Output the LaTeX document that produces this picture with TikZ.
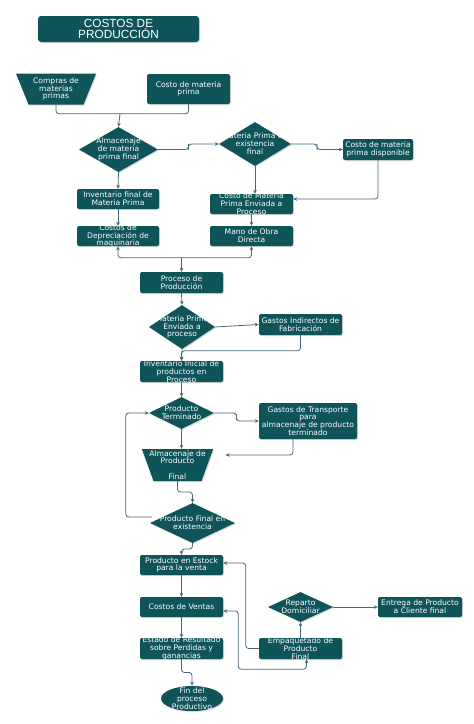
\documentclass[tikz,border=0pt]{standalone}
\usepackage{fontspec}
\setmainfont{DejaVu Sans}
\newfontfamily\titlefont{Liberation Sans}
\usetikzlibrary{positioning, arrows.meta, shapes.geometric, calc, shadows}
\definecolor{prodteal}{RGB}{14, 84, 88}
\definecolor{prodline}{RGB}{72, 102, 122}
\newcommand{\lbl}[1]{\smash{\makebox[0pt]{\raisebox{-.25em}{$\vcenter{\hsize=200pt\parindent=0pt\centering\lineskiplimit=-20pt #1\endgraf}$}}}}
\tikzset{
  every node/.style={
    font=\fontsize{7.6}{7.8}\selectfont,
    text=white,
    inner sep=0pt
  },
  boxshadow/.style={
    drop shadow={opacity=.3, shadow xshift=1pt, shadow yshift=-1pt}
  },
  box/.style={
    rectangle,
    rounded corners=2pt,
    fill=prodteal,
    boxshadow,
    minimum width=83,
    minimum height=21
  },
  titlebox/.style={
    minimum width=161,
    minimum height=26,
    rounded corners=3pt,
    font=\titlefont\fontsize{11.8}{11}\selectfont
  },
  trapbox/.style={
    trapezium,
    shape border rotate=180,
    fill=prodteal,
    boxshadow
  },
  dec/.style={
    diamond,
    fill=prodteal,
    boxshadow
  },
  term/.style={
    ellipse,
    fill=prodteal,
    boxshadow
  },
  flow/.style={
    draw=prodline,
    line width=.8pt,
    rounded corners=3pt,
    -{Stealth[length=4pt, width=3.6pt]}
  },
  plain/.style={flow, -},
  both/.style={flow, {Stealth[length=4pt, width=3.6pt]}-{Stealth[length=4pt, width=3.6pt]}}
}
\begin{document}
\begin{tikzpicture}[x=1pt, y=-1pt]
  \useasboundingbox (0,0) rectangle (474,724);

  \node[box, titlebox] (tit) at (118.5,29) {\lbl{COSTOS DE\\PRODUCCIÓN}};

  \node[trapbox, trapezium angle=68, inner xsep=27.5pt, inner ysep=15.5pt] (comp) at (56,89) {\lbl{Compras de\\materias\\primas}};
  \node[box, minimum height=30] (cmp) at (188.5,89) {\lbl{Costo de materia\\prima}};
  \node[dec, minimum width=79, minimum height=45] (alm) at (118.5,149.5) {\lbl{Almacenaje\\de materia\\prima final}};
  \node[dec, minimum width=72, minimum height=44] (mpe) at (255,144) {\lbl{Materia Prima en\\existencia\\final}};
  \node[box, minimum width=70] (disp) at (378,149.5) {\lbl{Costo de materia\\prima disponible}};
  \node[box, minimum width=82, minimum height=20] (invf) at (118,199) {\lbl{Inventario final de\\Materia Prima}};
  \node[box, minimum width=82, minimum height=20] (dep) at (118,236) {\lbl{Costos de\\Depreciación de\\maquinaria}};
  \node[box, minimum height=20] (cmpe) at (251.5,204) {\lbl{Costo de Materia\\Prima Enviada a\\Proceso}};
  \node[box, minimum height=20] (mod) at (251.5,236) {\lbl{Mano de Obra\\Directa}};
  \node[box] (proc) at (181.5,282.5) {\lbl{Proceso de\\Producción}};
  \node[dec, minimum width=66, minimum height=44] (mpenv) at (182,327) {\lbl{Materia Prima\\Enviada a\\proceso}};
  \node[box] (gif) at (300.5,324.5) {\lbl{Gastos Indirectos de\\Fabricación}};
  \node[box] (inv) at (181.5,371.5) {\lbl{Inventario Inicial de\\productos en\\Proceso}};
  \node[dec, minimum width=65, minimum height=32] (pt) at (181.5,413) {\lbl{Producto\\Terminado}};
  \node[box, minimum width=98, minimum height=36] (gtr) at (308,421) {\lbl{Gastos de Transporte\\para\\almacenaje de producto\\terminado}};
  \node[trapbox, trapezium angle=70, inner xsep=24pt, inner ysep=16pt] (almp) at (177.5,465) {\lbl{Almacenaje de\\Producto\\[7.8pt]Final}};
  \node[dec, minimum width=85, minimum height=40] (pfe) at (192.5,523) {\lbl{Producto Final en\\existencia}};
  \node[box, minimum height=20] (est) at (181.5,565) {\lbl{Producto en Estock\\para la venta}};
  \node[box, minimum height=20] (cv) at (181.5,607) {\lbl{Costos de Ventas}};
  \node[box] (er) at (181.5,648.5) {\lbl{Estado de Resultado\\sobre Perdidas y\\ganancias}};
  \node[term, minimum width=62, minimum height=25] (fin) at (192,698.5) {\lbl{Fin del\\proceso\\Productivo}};
  \node[dec, minimum width=65, minimum height=30] (rep) at (300.5,607) {\lbl{Reparto\\Domiciliar}};
  \node[box, minimum width=84, minimum height=20] (ent) at (420,607) {\lbl{Entrega de Producto\\a Cliente final}};
  \node[box] (emp) at (300.5,648.5) {\lbl{Empaquetado de\\Producto\\Final}};

  \coordinate (j1) at ($(alm.north)+(1.5,-13)$);
  \coordinate (j2) at ($(proc.north)+(0,-14)$);

  \draw[plain] (comp.south) |- (j1) -| (cmp.south);
  \draw[flow] (j1) -- (alm.north);
  \draw[flow] (alm.east) -| ($(alm.east)!.5!(mpe.west)$) |- (mpe.west);
  \draw[flow] (mpe.east) -| ($(mpe.east)!.5!(disp.west)$) |- (disp.west);
  \draw[flow] (alm.south) -- (invf.north);
  \draw[flow] (invf.south) -- (dep.north);
  \draw[flow] (mpe.south) -- (mpe.south |- cmpe.north);
  \draw[flow] (disp.south) |- ($(cmpe.east)+(0,-5)$);
  \draw[flow] (cmpe.south) -- (mod.north);
  \draw[flow] (j2) -| (dep.south);
  \draw[flow] (j2) -| (mod.south);
  \draw[flow] (j2) -- (proc.north);
  \draw[flow] (proc.south) -- (mpenv.north);
  \draw[flow] (mpenv.east) -- (gif.west);
  \draw[flow] (gif.south) |- ($(inv.north)+(0,-10)$) -- (inv.north);
  \draw[flow] (mpenv.south) -- (inv.north);
  \draw[flow] (inv.south) -- (pt.north);
  \draw[flow] (pt.east) -| ($(pt.east)!.5!(gtr.west)$) |- (gtr.west);
  \draw[flow] (pt.south) -- (pt.south |- almp.north);
  \draw[flow] ($(gtr.south)+(-15,0)$) |- ($(almp.center)+(48,-10)$);
  \draw[flow] (almp.south) |- ($(almp.south)!.5!(pfe.north)$) -| (pfe.north);
  \draw[flow] ($(pfe.west)+(2,-6)$) -- ++(-26,0) |- (pt.west);
  \draw[flow] (pfe.south) |- ($(pfe.south)!.5!(est.north)$) -| (est.north);
  \draw[flow] (est.south) -- (cv.north);
  \draw[flow] (cv.south) -- (er.north);
  \draw[flow] (er.south) |- ($(er.south)!.5!(fin.north)$) -| (fin.north);
  \draw[flow] (emp.north) -- (rep.south);
  \draw[flow] (rep.east) -- (ent.west);
  \draw[flow] (emp.west) -- ++(-13,0) |- ($(est.east)+(0,-2)$);
  \draw[both] ($(cv.east)+(0,4)$) -- ++(15,0) |- ($(emp.south)+(6,10)$) -- ($(emp.south)+(6,0)$);
\end{tikzpicture}
\end{document}
